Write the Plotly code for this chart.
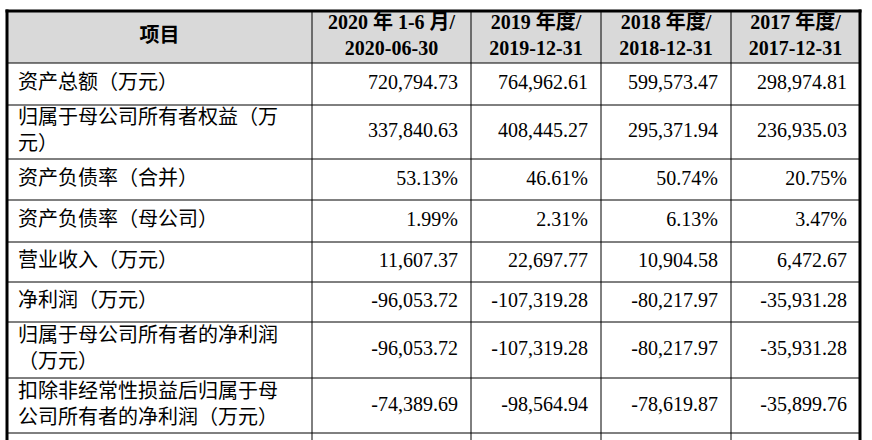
import plotly.graph_objects as go

# ---- data ----
header_labels = ["项目", "2020 年 1-6 月/<br>2020-06-30", "2019 年度/<br>2019-12-31",
                 "2018 年度/<br>2018-12-31", "2017 年度/<br>2017-12-31"]
items = ["资产总额（万元）", "归属于母公司所有者权益（万<br>元）", "资产负债率（合并）",
         "资产负债率（母公司）", "营业收入（万元）", "净利润（万元）",
         "归属于母公司所有者的净利润<br>（万元）", "扣除非经常性损益后归属于母<br>公司所有者的净利润（万元）"]
v2020h1 = ["720,794.73", "337,840.63", "53.13%", "1.99%", "11,607.37", "-96,053.72", "-96,053.72", "-74,389.69"]
v2019 = ["764,962.61", "408,445.27", "46.61%", "2.31%", "22,697.77", "-107,319.28", "-107,319.28", "-98,564.94"]
v2018 = ["599,573.47", "295,371.94", "50.74%", "6.13%", "10,904.58", "-80,217.97", "-80,217.97", "-78,619.87"]
v2017 = ["298,974.81", "236,935.03", "20.75%", "3.47%", "6,472.67", "-35,931.28", "-35,931.28", "-35,899.76"]

# ---- layout (pixel geometry) ----
W, H = 872, 440
table_left, table_top = 7, 11
col_widths = [305, 159, 130, 130, 129]
header_height = 52
row_heights = [42, 54, 41, 42, 40, 40, 56, 55]
next_row_height = 45  # partially visible following row
FONT = "Liberation Serif, Noto Sans CJK SC, serif"
FS = 20
pad_left, pad_right = 11, 13

col_edges = [table_left]
for w in col_widths:
    col_edges.append(col_edges[-1] + w)
row_edges = [table_top, table_top + header_height]
for h in row_heights:
    row_edges.append(row_edges[-1] + h)
bottom = row_edges[-1] + next_row_height

row_centers = [(row_edges[i + 1] + row_edges[i + 2]) / 2 for i in range(len(row_heights))]
header_center = (row_edges[0] + row_edges[1]) / 2
col_centers = [(col_edges[i] + col_edges[i + 1]) / 2 for i in range(len(col_widths))]

fig = go.Figure()

# header text
fig.add_trace(go.Scatter(
    x=col_centers, y=[header_center] * len(header_labels), text=header_labels,
    mode="text", textposition="middle center",
    textfont=dict(family=FONT, size=FS, color="black", weight="bold"),
    hoverinfo="skip", showlegend=False,
))
# first column (left aligned)
fig.add_trace(go.Scatter(
    x=[col_edges[0] + pad_left] * len(items), y=row_centers, text=items,
    mode="text", textposition="middle right",
    textfont=dict(family=FONT, size=FS, color="black"),
    hoverinfo="skip", showlegend=False,
))
# numeric columns (right aligned)
for ci, vals in enumerate([v2020h1, v2019, v2018, v2017], start=1):
    fig.add_trace(go.Scatter(
        x=[col_edges[ci + 1] - pad_right] * len(vals), y=row_centers, text=vals,
        mode="text", textposition="middle left",
        textfont=dict(family=FONT, size=FS, color="black"),
        hoverinfo="skip", showlegend=False,
    ))

shapes = []
# header fill
shapes.append(dict(type="rect", xref="x", yref="y", x0=col_edges[0], x1=col_edges[-1],
                   y0=row_edges[0], y1=row_edges[1], fillcolor="#d9d9d9",
                   line=dict(width=0), layer="below"))
# horizontal grid lines
for y in row_edges[1:]:
    shapes.append(dict(type="line", xref="x", yref="y", x0=col_edges[0], x1=col_edges[-1],
                       y0=y, y1=y, line=dict(color="black", width=1)))
# inner vertical lines
for x in col_edges[1:-1]:
    shapes.append(dict(type="line", xref="x", yref="y", x0=x, x1=x,
                       y0=row_edges[0], y1=bottom, line=dict(color="black", width=1)))
# thick outer border
for x in (col_edges[0], col_edges[-1]):
    shapes.append(dict(type="line", xref="x", yref="y", x0=x, x1=x,
                       y0=row_edges[0] - 1.5, y1=bottom, line=dict(color="black", width=3)))
shapes.append(dict(type="line", xref="x", yref="y", x0=col_edges[0] - 1.5, x1=col_edges[-1] + 1.5,
                   y0=row_edges[0], y1=row_edges[0], line=dict(color="black", width=3)))

fig.update_layout(
    width=W, height=H,
    margin=dict(l=0, r=0, t=0, b=0),
    paper_bgcolor="white", plot_bgcolor="white",
    xaxis=dict(range=[0, W], visible=False, fixedrange=True),
    yaxis=dict(range=[H, 0], visible=False, fixedrange=True),
    shapes=shapes,
)

fig.write_html("out.html", config={"displayModeBar": False},
               post_script="document.body.style.margin='0px';")
